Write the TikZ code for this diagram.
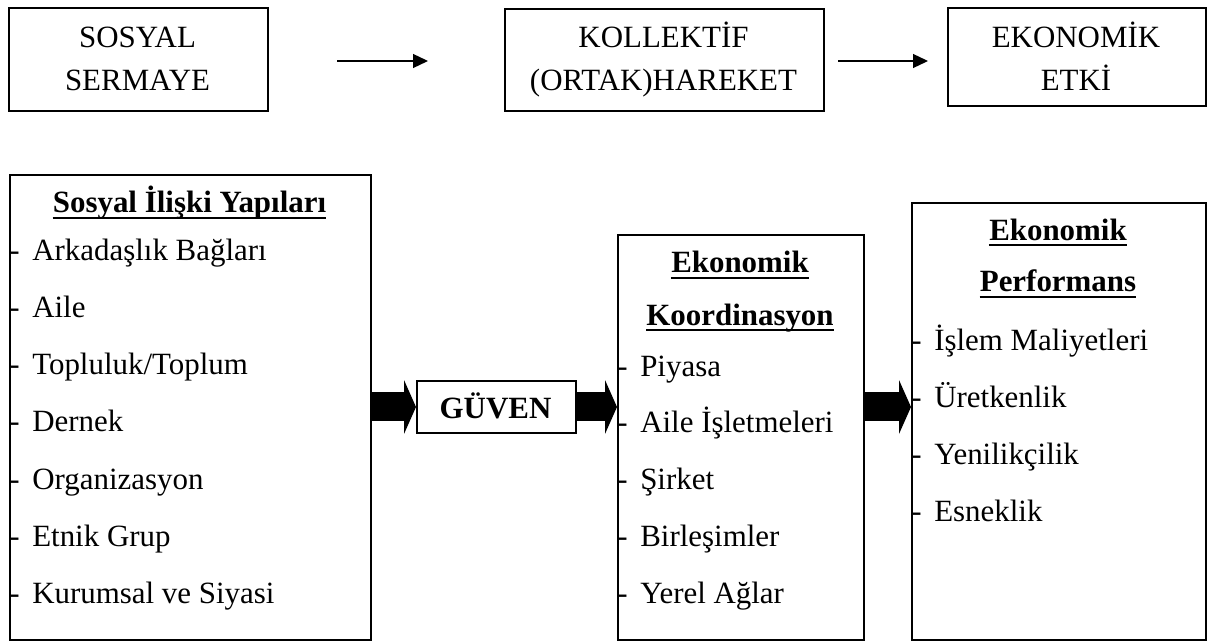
\documentclass[tikz,border=0pt]{standalone}
\usepackage{fontspec}
\setmainfont{Liberation Serif}
\usetikzlibrary{arrows.meta}
\newcommand{\itm}[1]{-\hspace{7.2pt}#1}
\begin{document}
\begin{tikzpicture}[x=0.02cm,y=-0.02cm,
  box/.style={draw, line width=0.04cm, anchor=north west, inner sep=0pt},
  txt/.style={inner sep=0pt, font=\fontsize{17.6pt}{24.5pt}\selectfont},
  ctxt/.style={txt, anchor=base},
  ltxt/.style={txt, anchor=base west},
  btxt/.style={txt, anchor=base, font=\fontsize{17.6pt}{24.5pt}\selectfont\bfseries},
  ul/.style={line width=0.055cm},
  thin/.style={line width=0.026cm, -{Triangle[length=0.3cm, width=0.28cm]}},
  fat/.style={line width=0.58cm, -{Triangle[length=0.24cm, width=1.08cm, line width=0pt]}}
]
\useasboundingbox (0,0) rectangle (1225,642);

% ---------- top row ----------
\node[box, minimum width=5.18cm, minimum height=2.06cm] (sos) at (8,7) {};
\node[ctxt] (sos1) at (137.5,48) {SOSYAL};
\node[ctxt] (sos2) at (137.5,91) {SERMAYE};

\node[box, minimum width=6.38cm, minimum height=2.04cm] (kol) at (504,8) {};
\node[ctxt] (kol1) at (663.5,48) {KOLLEKTİF};
\node[ctxt] (kol2) at (663.5,91) {(ORTAK)HAREKET};

\node[box, minimum width=5.16cm, minimum height=1.96cm] (eko) at (947,7) {};
\node[ctxt] (eko1) at (1076,48) {EKONOMİK};
\node[ctxt] (eko2) at (1076,91) {ETKİ};

\coordinate (a1s) at (337,61);
\coordinate (a1e) at (428,61);
\coordinate (a2s) at (838,61);
\coordinate (a2e) at (928,61);
\draw[thin] (a1s) -- (a1e);
\draw[thin] (a2s) -- (a2e);

% ---------- left box ----------
\node[box, minimum width=7.22cm, minimum height=9.3cm] (L) at (9,174) {};
\node[btxt] (Lt) at (189.5,213) {Sosyal İlişki Yapıları};
\draw[ul] ([yshift=-0.1cm]Lt.base west) -- ([yshift=-0.1cm]Lt.base east);
\node[ltxt] (L1) at (9,260) {\itm{Arkadaşlık Bağları}};
\node[ltxt] (L2) at (9,317) {\itm{Aile}};
\node[ltxt] (L3) at (9,374) {\itm{Topluluk/Toplum}};
\node[ltxt] (L4) at (9,431) {\itm{Dernek}};
\node[ltxt] (L5) at (9,489) {\itm{Organizasyon}};
\node[ltxt] (L6) at (9,546) {\itm{Etnik Grup}};
\node[ltxt] (L7) at (9,603) {\itm{Kurumsal ve Siyasi}};

% ---------- GÜVEN ----------
\node[box, minimum width=3.18cm, minimum height=1.04cm] (G) at (416,380) {};
\node[btxt] (Gt) at (495.5,418) {GÜVEN};

% ---------- middle box ----------
\node[box, minimum width=4.92cm, minimum height=8.1cm] (M) at (617,234) {};
\node[btxt] (Mt1) at (740,273) {Ekonomik};
\draw[ul] ([yshift=-0.1cm]Mt1.base west) -- ([yshift=-0.1cm]Mt1.base east);
\node[btxt] (Mt2) at (740,325) {Koordinasyon};
\draw[ul] ([yshift=-0.1cm]Mt2.base west) -- ([yshift=-0.1cm]Mt2.base east);
\node[ltxt] (M1) at (617,376) {\itm{Piyasa}};
\node[ltxt] (M2) at (617,432) {\itm{Aile İşletmeleri}};
\node[ltxt] (M3) at (617,489) {\itm{Şirket}};
\node[ltxt] (M4) at (617,546) {\itm{Birleşimler}};
\node[ltxt] (M5) at (617,603) {\itm{Yerel Ağlar}};

% ---------- right box ----------
\node[box, minimum width=5.88cm, minimum height=8.74cm] (R) at (911,202) {};
\node[btxt] (Rt1) at (1058,240) {Ekonomik};
\draw[ul] ([yshift=-0.1cm]Rt1.base west) -- ([yshift=-0.1cm]Rt1.base east);
\node[btxt] (Rt2) at (1058,292) {Performans};
\draw[ul] ([yshift=-0.1cm]Rt2.base west) -- ([yshift=-0.1cm]Rt2.base east);
\node[ltxt] (R1) at (911,350) {\itm{İşlem Maliyetleri}};
\node[ltxt] (R2) at (911,407) {\itm{Üretkenlik}};
\node[ltxt] (R3) at (911,464) {\itm{Yenilikçilik}};
\node[ltxt] (R4) at (911,521) {\itm{Esneklik}};

% ---------- fat arrows ----------
\draw[fat] (L.east |- G.west) -- (G.west);
\draw[fat] (G.east) -- (M.west |- G.east);
\draw[fat] (M.east |- G.east) -- (R.west |- G.east);
\end{tikzpicture}
\end{document}
